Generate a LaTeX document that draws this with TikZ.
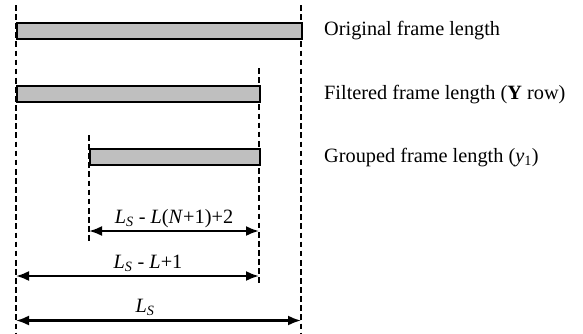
\documentclass[tikz,border=0pt]{standalone}
\usepackage{fontspec}
\setmainfont{Liberation Serif}
\usetikzlibrary{arrows.meta}
\begin{document}
\begin{tikzpicture}[x=1pt,y=-1pt,
  every node/.style={font=\fontsize{20.3}{24}\selectfont, inner sep=0pt},
  guide/.style={line width=2.2pt, dash pattern=on 5.7pt off 3.4pt},
  bar/.style={draw, line width=2.4pt, fill=black!25, minimum height=16pt, anchor=north west},
  dim/.style={line width=2.2pt, {Latex[length=13pt,width=10pt]}-{Latex[length=13pt,width=10pt]}},
  lbl/.style={anchor=base west}]
\useasboundingbox (0,0) rectangle (583,333);
% guide lines
\coordinate (g1t) at (16,5);   \coordinate (g1b) at (16,333);
\coordinate (g2t) at (301,5);  \coordinate (g2b) at (301,333);
\coordinate (g3t) at (259,68); \coordinate (g3b) at (259,284);
\coordinate (g4t) at (89,135); \coordinate (g4b) at (89,243);
\draw[guide] (g1t) -- (g1b);
\draw[guide] (g2t) -- (g2b);
\draw[guide] (g3t) -- (g3b);
\draw[guide] (g4t) -- (g4b);
% bars
\node[bar, minimum width=285pt] (b1) at (16,22) {};
\node[bar, minimum width=243pt] (b2) at (16,84.5) {};
\node[bar, minimum width=170pt] (b3) at (89,148) {};
% labels
\node[lbl] (t1) at (324,35.7) {Original frame length};
\node[lbl] (t2) at (324,99) {Filtered frame length (\textbf{Y} row)};
\node[lbl] (t3) at (324,162) {Grouped frame length (\textit{y}\textsubscript{1})};
% dimension arrows
\coordinate (a1l) at (89,231);  \coordinate (a1r) at (259,231);
\coordinate (a2l) at (16,276);  \coordinate (a2r) at (259,276);
\coordinate (a3l) at (16,320.5);  \coordinate (a3r) at (301,320.5);
\draw[dim] (a1l) -- (a1r);
\draw[dim] (a2l) -- (a2r);
\draw[dim] (a3l) -- (a3r);
\node[anchor=base] (d1) at (174,223) {\textit{L}\textsubscript{\textit{S}} - \textit{L}(\textit{N}+1)+2};
\node[anchor=base] (d2) at (148,268) {\textit{L}\textsubscript{\textit{S}} - \textit{L}+1};
\node[anchor=base] (d3) at (145,312.5) {\textit{L}\textsubscript{\textit{S}}};
\end{tikzpicture}
\end{document}
